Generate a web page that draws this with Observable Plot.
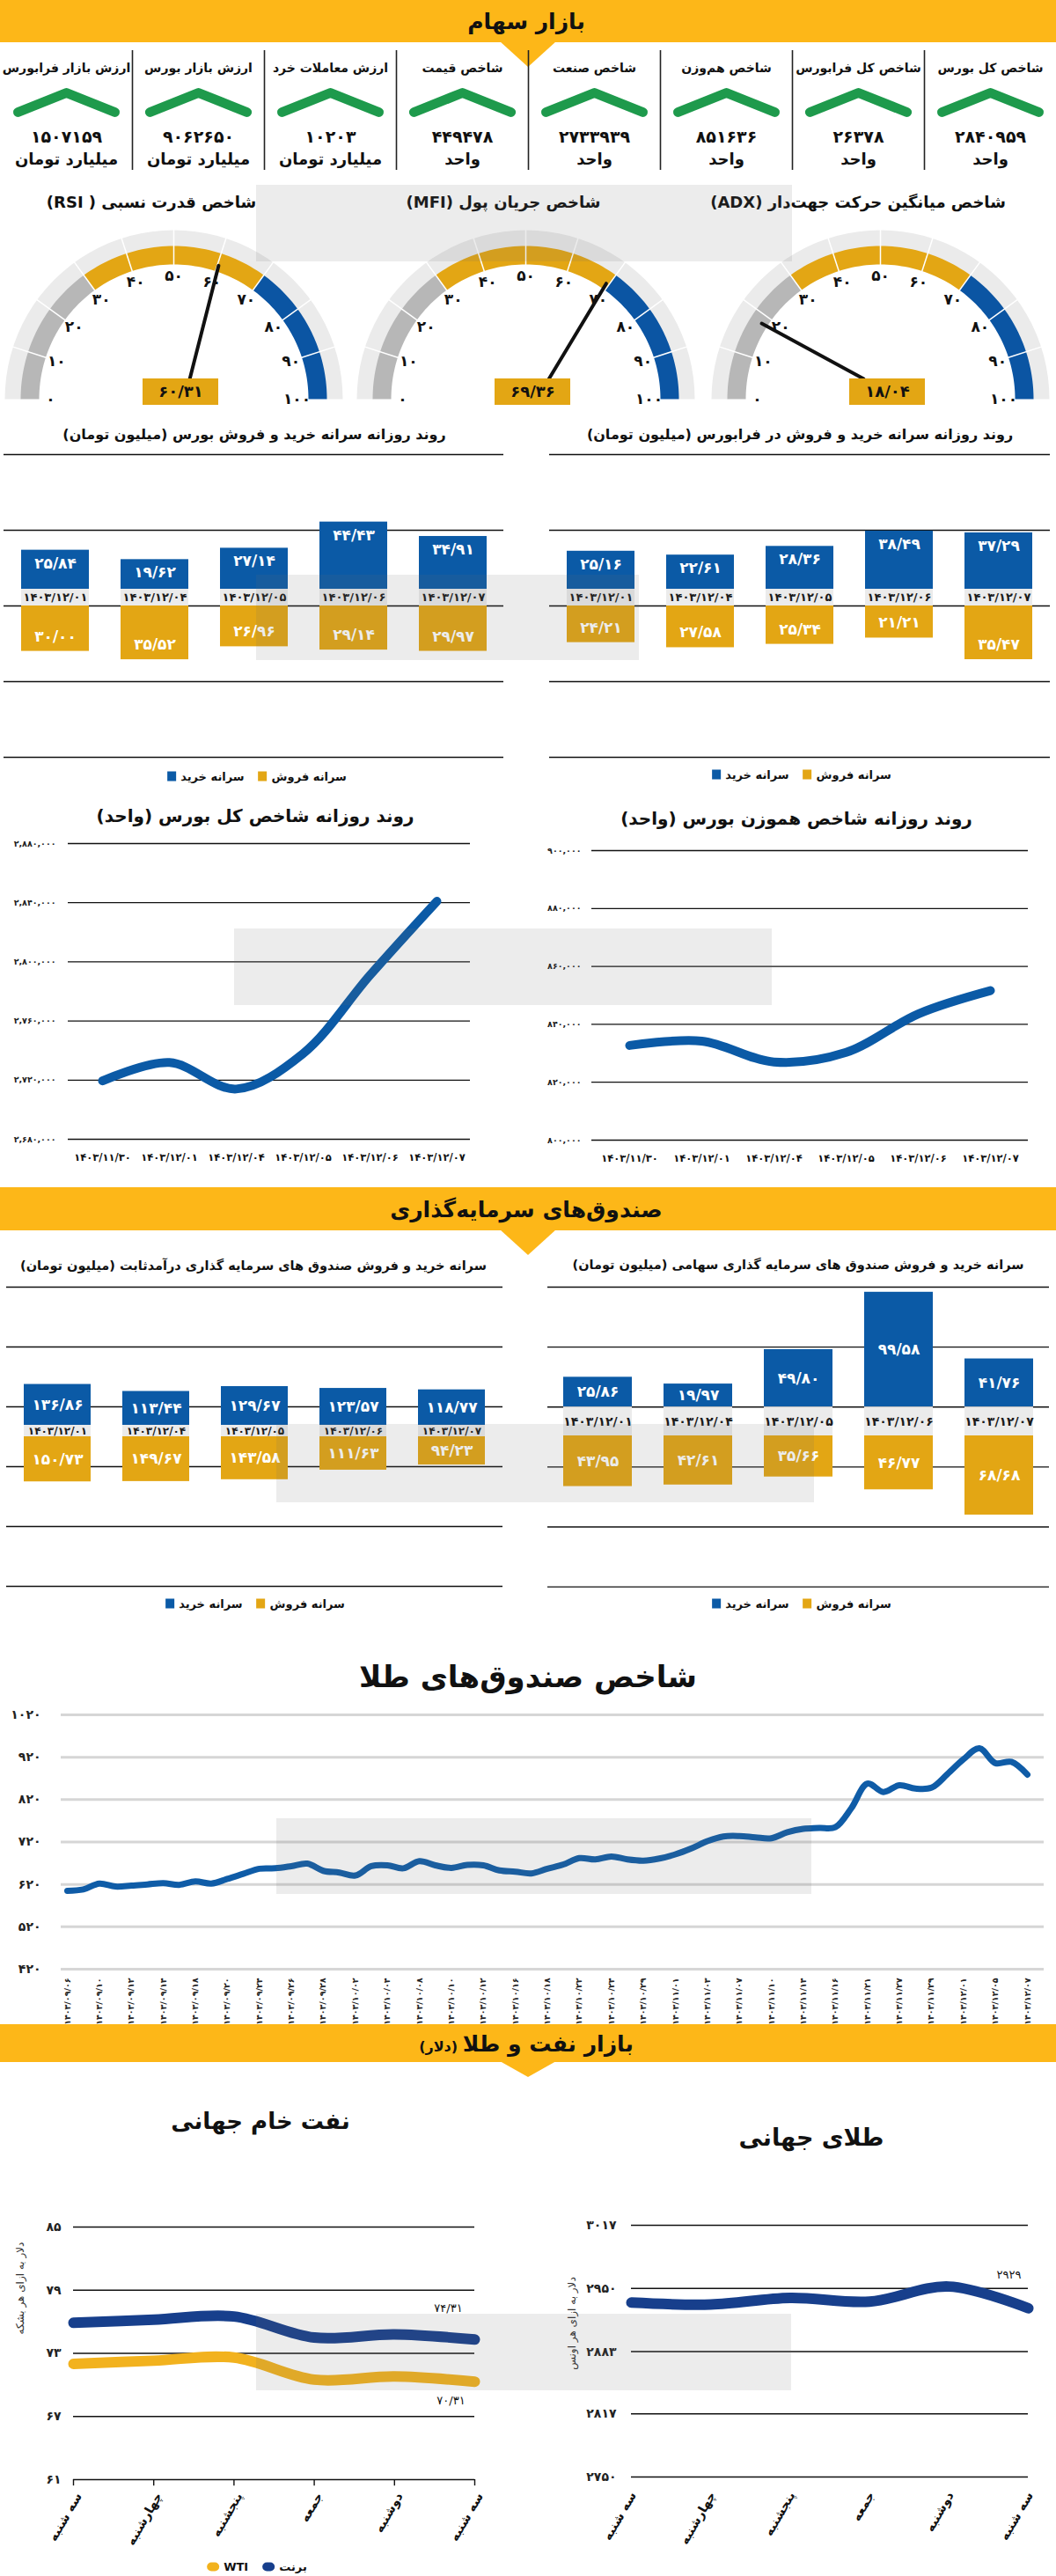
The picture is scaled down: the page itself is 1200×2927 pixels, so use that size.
<!DOCTYPE html>
<html lang="fa">
<head>
<meta charset="utf-8">
<script src="https://cdn.jsdelivr.net/npm/d3@7"></script>
<script src="https://cdn.jsdelivr.net/npm/@observablehq/plot@0.6"></script>
<style>
html,body{margin:0;padding:0;background:#fff;}
#page{position:relative;width:1200px;height:2927px;overflow:hidden;background:#fff;font-family:"DejaVu Sans",sans-serif;color:#111;}
.t{position:absolute;white-space:nowrap;transform:translate(-50%,-50%);direction:rtl;font-weight:bold;line-height:1;}
.band{position:absolute;left:0;width:1200px;background:#fdb718;}
.tri{position:absolute;width:0;height:0;}
.chart{position:absolute;}
.chart svg{display:block;overflow:visible;}
.legend{position:absolute;transform:translate(-50%,-50%);display:flex;direction:rtl;gap:16px;font-weight:bold;font-size:13px;white-space:nowrap;align-items:center;}
.legend .item{display:flex;align-items:center;gap:5px;}
.sw{display:inline-block;width:10px;height:11px;}
.wm{position:absolute;background:rgba(110,110,110,0.13);pointer-events:none;}
.narrow text{letter-spacing:-0.4px;}
</style>
</head>
<body>
<div id="page"></div>
<script>
// ================= DATA =================
const kpiLabels = ["شاخص کل بورس","شاخص کل فرابورس","شاخص هم‌وزن","شاخص صنعت","شاخص قیمت","ارزش معاملات خرد","ارزش بازار بورس","ارزش بازار فرابورس"];
const kpiValues = [2840959, 26378, 851636, 2733939, 449478, 10203, 9062650, 1507159];
const kpiUnits = ["واحد","واحد","واحد","واحد","واحد","میلیارد تومان","میلیارد تومان","میلیارد تومان"];

const gaugeTitles = ["شاخص قدرت نسبی ( RSI)","شاخص جریان پول (MFI)","شاخص میانگین حرکت جهت‌دار (ADX)"];
const gaugeValues = [60.31, 69.36, 18.04];
const gaugeStops = [0, 30, 70, 100];
const gaugeTicks = [0,10,20,30,40,50,60,70,80,90,100];

const tradeDates = ["۱۴۰۳/۱۲/۰۱","۱۴۰۳/۱۲/۰۴","۱۴۰۳/۱۲/۰۵","۱۴۰۳/۱۲/۰۶","۱۴۰۳/۱۲/۰۷"];
const bourseBuy = [25.84, 19.62, 27.14, 44.43, 34.91];
const bourseSell = [30.00, 35.52, 26.96, 29.14, 29.97];
const faraBuy = [25.16, 22.61, 28.36, 38.49, 37.29];
const faraSell = [24.21, 27.58, 25.34, 21.21, 35.47];
const fixedBuy = [136.86, 113.44, 129.67, 123.57, 118.77];
const fixedSell = [150.73, 149.67, 143.58, 111.63, 94.23];
const equityBuy = [25.86, 19.97, 49.80, 99.58, 41.76];
const equitySell = [43.95, 42.61, 35.66, 46.77, 68.68];

const indexDates = ["۱۴۰۳/۱۱/۳۰","۱۴۰۳/۱۲/۰۱","۱۴۰۳/۱۲/۰۴","۱۴۰۳/۱۲/۰۵","۱۴۰۳/۱۲/۰۶","۱۴۰۳/۱۲/۰۷"];
const tedpix = [2719500, 2731900, 2714000, 2738000, 2791000, 2840959];
const tedpixTicks = [2680000, 2720000, 2760000, 2800000, 2840000, 2880000];
const equalWeight = [832700, 834200, 827000, 830300, 843600, 851636];
const equalTicks = [800000, 820000, 840000, 860000, 880000, 900000];

const goldFundTickDates = ["۱۴۰۳/۰۹/۰۶","۱۴۰۳/۰۹/۱۰","۱۴۰۳/۰۹/۱۲","۱۴۰۳/۰۹/۱۴","۱۴۰۳/۰۹/۱۸","۱۴۰۳/۰۹/۲۰","۱۴۰۳/۰۹/۲۴","۱۴۰۳/۰۹/۲۶","۱۴۰۳/۰۹/۲۸","۱۴۰۳/۱۰/۰۲","۱۴۰۳/۱۰/۰۴","۱۴۰۳/۱۰/۰۸","۱۴۰۳/۱۰/۱۰","۱۴۰۳/۱۰/۱۲","۱۴۰۳/۱۰/۱۶","۱۴۰۳/۱۰/۱۸","۱۴۰۳/۱۰/۲۲","۱۴۰۳/۱۰/۲۴","۱۴۰۳/۱۰/۲۹","۱۴۰۳/۱۱/۰۱","۱۴۰۳/۱۱/۰۳","۱۴۰۳/۱۱/۰۷","۱۴۰۳/۱۱/۱۰","۱۴۰۳/۱۱/۱۴","۱۴۰۳/۱۱/۱۶","۱۴۰۳/۱۱/۲۱","۱۴۰۳/۱۱/۲۷","۱۴۰۳/۱۱/۲۹","۱۴۰۳/۱۲/۰۱","۱۴۰۳/۱۲/۰۵","۱۴۰۳/۱۲/۰۷"];
const goldFundIndex = [605,608,622,615,617,620,623,619,627,622,633,645,657,658,663,669,652,648,641,663,665,658,675,665,659,666,665,653,650,646,657,667,682,679,686,679,676,681,691,705,722,733,734,731,729,743,751,753,755,800,858,838,854,846,848,880,915,941,906,909,879];
const goldFundTicks = [420, 520, 620, 720, 820, 920, 1020];

const weekDays = ["سه شنبه","چهارشنبه","پنجشنبه","جمعه","دوشنبه","سه شنبه"];
const brent = [75.9, 76.2, 76.5, 74.5, 74.8, 74.31];
const wti = [72.0, 72.3, 72.6, 70.5, 70.8, 70.31];
const oilTicks = [61, 67, 73, 79, 85];
const goldOunce = [2935, 2933, 2940, 2936, 2952, 2929];
const goldOunceTicks = [2750, 2817, 2883, 2950, 3017];

// ================= HELPERS =================
const BLUE="#0b5aa6", GOLD="#e3a614", GREEN="#1e9a4c", YEL="#fdb718", NAVY="#173f8c", WTIC="#f2b21e", GBLUE="#0b55a3";
const STYLE = {fontFamily:'"DejaVu Sans", sans-serif', background:"transparent", overflow:"visible"};
const FA = "۰۱۲۳۴۵۶۷۸۹";
const fa = s => String(s).replace(/[0-9]/g, d => FA[+d]);
const faDec = v => fa(v.toFixed(2).replace(".", "/"));
const faGroup = v => fa(d3.format(",")(v));
const page = document.getElementById("page");

function put(node, left, top, width, cls){
  const d = document.createElement("div");
  d.className = "chart" + (cls ? " " + cls : "");
  d.style.left = left + "px"; d.style.top = top + "px"; d.style.width = width + "px";
  d.appendChild(node); page.appendChild(d); return d;
}
function label(text, x, y, size, opts = {}){
  const d = document.createElement("div");
  d.className = "t"; d.textContent = text;
  d.style.left = x + "px"; d.style.top = y + "px"; d.style.fontSize = size + "px";
  if (opts.color) d.style.color = opts.color;
  if (opts.weight) d.style.fontWeight = opts.weight;
  if (opts.rotate) d.style.transform = `translate(-50%,-50%) rotate(${opts.rotate}deg)`;
  page.appendChild(d); return d;
}
function header(title, top, h, triH, sub){
  const b = document.createElement("div"); b.className = "band";
  b.style.top = top + "px"; b.style.height = h + "px"; page.appendChild(b);
  const t = document.createElement("div"); t.className = "tri";
  t.style.left = "568px"; t.style.top = (top + h - 1) + "px";
  t.style.borderLeft = "32px solid transparent"; t.style.borderRight = "32px solid transparent";
  t.style.borderTop = triH + "px solid " + YEL; page.appendChild(t);
  const l = label(title, 598, top + h / 2, 25);
  if (sub){ const s = document.createElement("span"); s.textContent = " " + sub; s.style.fontSize = "16px"; l.appendChild(s); }
}
function legend(items, cx, cy){
  const d = document.createElement("div"); d.className = "legend";
  d.style.left = cx + "px"; d.style.top = cy + "px";
  for (const it of items){
    const s = document.createElement("span"); s.className = "item";
    const tx = document.createElement("span"); tx.textContent = it.name;
    const sw = document.createElement("span"); sw.className = "sw"; sw.style.background = it.color;
    if (it.round){ sw.style.width = "14px"; sw.style.height = "10px"; sw.style.borderRadius = "5px"; }
    s.appendChild(tx); s.appendChild(sw); d.appendChild(s);
  }
  page.appendChild(d);
}

// ================= SECTION 1: STOCK MARKET =================
header("بازار سهام", 0, 48, 29);

// KPI tiles
{
  const kpi = kpiLabels.map((lab, i) => ({i, lab, value: kpiValues[i], unit: kpiUnits[i]}));
  const chevron = kpi.flatMap(d => [-1, 0, 1].map(k => ({i: d.i, x: d.i + 0.5 + k * 0.367, y: k === 0 ? 55 : 77})));
  const svg = Plot.plot({
    width: 1200, height: 150, margin: 0, style: STYLE,
    x: {domain: [0, 8], range: [1200, 0], axis: null},
    y: {domain: [0, 150], range: [0, 150], axis: null},
    marks: [
      Plot.ruleX(d3.range(1, 8), {x: d => d, y1: 7, y2: 143, stroke: "#222", strokeWidth: 1.6}),
      Plot.line(chevron, {x: "x", y: "y", z: "i", stroke: GREEN, strokeWidth: 11, strokeLinecap: "round", strokeLinejoin: "round"}),
      Plot.text(kpi, {x: d => d.i + 0.5, y: 27, text: "lab", fontSize: 14, fontWeight: "bold", fill: "#111"}),
      Plot.text(kpi, {x: d => d.i + 0.5, y: 105, text: d => fa(d.value), fontSize: 19, fontWeight: "bold", fill: "#111"}),
      Plot.text(kpi, {x: d => d.i + 0.5, y: 131, text: "unit", fontSize: 18, fontWeight: "bold", fill: "#111"})
    ]
  });
  put(svg, 0, 50, 1200);
}

// Gauges
const gaugeCenters = [197, 597, 1000];
gaugeTitles.forEach((title, gi) => {
  const cx = gaugeCenters[gi], value = gaugeValues[gi];
  const ang = v => Math.PI * (1 - v / 100);
  const P = (r, v) => ({x: r * Math.cos(ang(v)), y: r * Math.sin(ang(v))});
  const ring = (v0, v1, r0, r1) => {
    const n = 48, out = [];
    for (let k = 0; k <= n; k++) out.push(P(r1, v0 + (v1 - v0) * k / n));
    for (let k = n; k >= 0; k--) out.push(P(r0, v0 + (v1 - v0) * k / n));
    return out;
  };
  const segColors = ["#b7b7b7", GOLD, GBLUE];
  const tip = P(160, value);
  const bx = Math.max(-35, Math.min(51, 8 + 0.2 * tip.x));
  const seps = gaugeTicks.slice(1, -1).map(v => ({a: P(152, v), b: P(193, v)}));
  const marks = [
    Plot.line(ring(0, 100, 173, 192), {x: "x", y: "y", fill: "#ebebeb", stroke: "none"}),
    ...gaugeStops.slice(0, -1).map((s, i) => Plot.line(ring(s, gaugeStops[i + 1], 153, 174), {x: "x", y: "y", fill: segColors[i], stroke: "none"})),
    Plot.link(seps, {x1: d => d.a.x, y1: d => d.a.y, x2: d => d.b.x, y2: d => d.b.y, stroke: "#fff", strokeWidth: 1.5}),
    Plot.text(gaugeTicks, {x: v => P(140, v).x, y: v => P(140, v).y, text: v => fa(v), fontSize: 17, fontWeight: "bold", fill: "#111"}),
    Plot.link([value], {x1: () => bx, y1: () => 23, x2: () => tip.x, y2: () => tip.y, stroke: "#111", strokeWidth: 4, strokeLinecap: "round"}),
    Plot.rect([value], {x1: () => 8 - 43, x2: () => 8 + 43, y1: () => -7, y2: () => 23, fill: GOLD}),
    Plot.text([value], {x: () => 8, y: () => 8, text: v => faDec(v), fontSize: 18, fontWeight: "bold", fill: "#111"})
  ];
  const svg = Plot.plot({
    width: 400, height: 215, margin: 0, style: STYLE,
    x: {domain: [-200, 200], range: [0, 400], axis: null},
    y: {domain: [-12, 203], range: [215, 0], axis: null},
    marks
  });
  put(svg, cx - 200, 250, 400);
  label(title, cx - 25, 230, 18);
});

// Split bar charts
function splitBars(cfg){
  const data = cfg.dates.map((date, i) => ({date, buy: cfg.buy[i], sell: cfg.sell[i]}));
  const B = cfg.band, ppu = cfg.ppu;
  const yDom = [-(cfg.height - cfg.zeroY) / ppu, cfg.zeroY / ppu];
  const buyY = cfg.mid ? d => B + d.buy / 2 : d => B + d.buy;
  const sellY = cfg.mid ? d => -d.sell / 2 : d => -d.sell;
  const svg = Plot.plot({
    width: cfg.width, height: cfg.height,
    marginLeft: cfg.xr[0], marginRight: cfg.width - cfg.xr[1], marginTop: 0, marginBottom: 0,
    style: STYLE,
    x: {type: "band", domain: cfg.dates, range: cfg.xr, paddingInner: 0.32, paddingOuter: 0.16, axis: null},
    y: {domain: yDom, range: [cfg.height, 0], axis: null},
    marks: [
      Plot.ruleY(cfg.grid, {stroke: "#111", strokeWidth: 1.3}),
      Plot.rectY(data, {x: "date", y1: B, y2: d => B + d.buy, fill: BLUE}),
      Plot.rectY(data, {x: "date", y1: 0, y2: d => -d.sell, fill: GOLD}),
      Plot.rectY(data, {x: "date", y1: 0, y2: B, fill: "#ebebeb"}),
      Plot.text(data, {x: "date", y: B / 2, text: "date", fill: "#1a1a1a", fontSize: cfg.dateSize, fontWeight: "bold"}),
      Plot.text(data, {x: "date", y: buyY, dy: cfg.mid ? 0 : 15, text: d => faDec(d.buy), fill: "#fff", fontSize: cfg.valSize, fontWeight: "bold"}),
      Plot.text(data, {x: "date", y: sellY, dy: cfg.mid ? 0 : -17, text: d => faDec(d.sell), fill: "#fff", fontSize: cfg.valSize, fontWeight: "bold"})
    ]
  });
  put(svg, cfg.left, cfg.top, cfg.width);
}

const legendBuySell = [{name: "سرانه فروش", color: GOLD}, {name: "سرانه خرید", color: BLUE}];

label("روند روزانه سرانه خرید و فروش بورس (میلیون تومان)", 289, 494, 16);
splitBars({left: 0, top: 500, width: 600, height: 376, zeroY: 188, ppu: 1.72, band: 11,
  grid: [-100, -50, 0, 50, 100], xr: [4, 572], dates: tradeDates, buy: bourseBuy, sell: bourseSell,
  mid: false, dateSize: 13, valSize: 17});
legend(legendBuySell, 292, 882);

label("روند روزانه سرانه خرید و فروش در فرابورس (میلیون تومان)", 909, 494, 16);
splitBars({left: 600, top: 500, width: 600, height: 376, zeroY: 188, ppu: 1.72, band: 11,
  grid: [-100, -50, 0, 50, 100], xr: [24, 593], dates: tradeDates, buy: faraBuy, sell: faraSell,
  mid: false, dateSize: 13, valSize: 17});
legend(legendBuySell, 911, 880);

// Index line charts
function indexLine(cfg){
  const data = cfg.dates.map((date, i) => ({date, v: cfg.values[i]}));
  const svg = Plot.plot({
    width: 600, height: 390, marginLeft: cfg.xr[0], marginRight: 600 - cfg.xr[1], marginTop: 0, marginBottom: 0,
    style: STYLE,
    x: {type: "point", domain: cfg.dates, range: cfg.xr, axis: null},
    y: {domain: [cfg.ticks[0], cfg.ticks[cfg.ticks.length - 1]], range: cfg.yr, axis: null},
    marks: [
      Plot.ruleY(cfg.ticks, {stroke: "#111", strokeWidth: 1.3}),
      Plot.line(data, {x: "date", y: "v", stroke: BLUE, strokeWidth: 10, curve: "catmull-rom"}),
      Plot.text(cfg.ticks, {y: d => d, frameAnchor: "left", dx: cfg.labelDx, textAnchor: "end", text: d => faGroup(d), fontSize: cfg.tickSize, fontWeight: "bold", fill: "#222"}),
      Plot.text(cfg.dates, {x: d => d, y: cfg.ticks[0], dy: 21, text: d => d, fontSize: 11.5, fontWeight: "bold", fill: "#111"})
    ]
  });
  put(svg, cfg.left, 945, 600);
}
label("روند روزانه شاخص کل بورس (واحد)", 290, 927, 20);
indexLine({left: 0, dates: indexDates, values: tedpix, ticks: tedpixTicks, xr: [77, 534], yr: [349, 13], labelDx: -14, tickSize: 9.5});
label("روند روزانه شاخص هموزن بورس (واحد)", 905, 930, 20);
indexLine({left: 600, dates: indexDates, values: equalWeight, ticks: equalTicks, xr: [72, 568], yr: [350, 21], labelDx: -12, tickSize: 9.5});

// ================= SECTION 2: FUNDS =================
header("صندوق‌های سرمایه‌گذاری", 1349, 49, 29);

label("سرانه خرید و فروش صندوق های سرمایه گذاری درآمدثابت (میلیون تومان)", 288, 1438, 14.5);
splitBars({left: 0, top: 1450, width: 600, height: 365, zeroY: 182, ppu: 0.34, band: 38,
  grid: [-500, -300, -100, 100, 300, 500], xr: [7, 571], dates: tradeDates, buy: fixedBuy, sell: fixedSell,
  mid: true, dateSize: 12, valSize: 17});
legend(legendBuySell, 290, 1822);

label("سرانه خرید و فروش صندوق های سرمایه گذاری سهامی (میلیون تومان)", 907, 1437, 14.5);
splitBars({left: 600, top: 1450, width: 600, height: 365, zeroY: 181, ppu: 1.31, band: 25,
  grid: d3.range(-3, 3).map(k => 25 + 52 * k), xr: [22, 592], dates: tradeDates, buy: equityBuy, sell: equitySell,
  mid: true, dateSize: 14, valSize: 17});
legend(legendBuySell, 911, 1822);

// Gold funds index
label("شاخص صندوق‌های طلا", 600, 1905, 34);
{
  const data = goldFundIndex.map((v, i) => ({i, v}));
  const svg = Plot.plot({
    width: 1200, height: 390, marginLeft: 69, marginRight: 14, marginTop: 0, marginBottom: 0, style: STYLE,
    x: {domain: [0, goldFundIndex.length - 1], range: [76, 1167], axis: null},
    y: {domain: [420, 1020], range: [302, 13], axis: null},
    marks: [
      Plot.ruleY(goldFundTicks, {stroke: "#d6d6d6", strokeWidth: 3}),
      Plot.line(data, {x: "i", y: "v", stroke: "#0f5ca7", strokeWidth: 7, curve: "catmull-rom"}),
      Plot.text(goldFundTicks, {y: d => d, frameAnchor: "left", dx: -23, textAnchor: "end", text: d => fa(d), fontSize: 14, fontWeight: "bold", fill: "#222"}),
      Plot.text(goldFundTickDates, {x: (d, i) => 2 * i, y: 420, dy: 10, rotate: -90, textAnchor: "end", text: d => d, fontSize: 9.5, fontWeight: "bold", fill: "#222"})
    ]
  });
  put(svg, 0, 1935, 1200, "narrow");
}

// ================= SECTION 3: OIL & GOLD =================
header("بازار نفت و طلا", 2300, 43, 18, "(دلار)");

label("نفت خام جهانی", 296, 2410, 26);
{
  const b = brent.map((v, i) => ({i, v})), w = wti.map((v, i) => ({i, v}));
  const idx = d3.range(weekDays.length);
  const svg = Plot.plot({
    width: 600, height: 395, marginLeft: 83, marginRight: 61, marginTop: 0, marginBottom: 0, style: STYLE,
    x: {domain: [0, weekDays.length - 1], range: [83, 539], axis: null},
    y: {domain: [61, 85], range: [312, 25], axis: null},
    marks: [
      Plot.ruleY(oilTicks, {stroke: "#111", strokeWidth: 1.4}),
      Plot.ruleX(idx, {x: d => d, y1: 61, y2: 60.4, stroke: "#111", strokeWidth: 1.4}),
      Plot.line(w, {x: "i", y: "v", stroke: WTIC, strokeWidth: 12, curve: "catmull-rom"}),
      Plot.line(b, {x: "i", y: "v", stroke: NAVY, strokeWidth: 12, curve: "catmull-rom"}),
      Plot.text(oilTicks, {y: d => d, frameAnchor: "left", dx: -14, textAnchor: "end", text: d => fa(d), fontSize: 14, fontWeight: "bold", fill: "#222"}),
      Plot.text(weekDays, {x: (d, i) => i, y: 61, dx: 6, dy: 16, rotate: -60, textAnchor: "end", text: d => d, fontSize: 14, fontWeight: "bold", fill: "#111"}),
      Plot.text([brent[brent.length - 1]], {x: () => weekDays.length - 1, y: d => d, dx: -30, dy: -36, text: d => faDec(d), fontSize: 13, fill: "#111"}),
      Plot.text([wti[wti.length - 1]], {x: () => weekDays.length - 1, y: d => d, dx: -27, dy: 22, text: d => faDec(d), fontSize: 13, fill: "#111"})
    ]
  });
  put(svg, 0, 2505, 600);
  label("دلار به ازای هر بشکه", 23, 2600, 12, {weight: "normal", color: "#333", rotate: -90});
  legend([{name: "برنت", color: NAVY, round: true}, {name: "WTI", color: WTIC, round: true}], 292, 2916);
}

label("طلای جهانی", 922, 2428, 27);
{
  const g = goldOunce.map((v, i) => ({i, v}));
  const svg = Plot.plot({
    width: 600, height: 415, marginLeft: 117, marginRight: 32, marginTop: 0, marginBottom: 0, style: STYLE,
    x: {domain: [0, weekDays.length - 1], range: [117, 568], axis: null},
    y: {domain: [2750, 3017], range: [309, 23], axis: null},
    marks: [
      Plot.ruleY(goldOunceTicks, {stroke: "#111", strokeWidth: 1.4}),
      Plot.line(g, {x: "i", y: "v", stroke: NAVY, strokeWidth: 12, curve: "catmull-rom"}),
      Plot.text(goldOunceTicks, {y: d => d, frameAnchor: "left", dx: -17, textAnchor: "end", text: d => fa(d), fontSize: 14, fontWeight: "bold", fill: "#222"}),
      Plot.text(weekDays, {x: (d, i) => i, y: 2750, dx: 2, dy: 18, rotate: -60, textAnchor: "end", text: d => d, fontSize: 14, fontWeight: "bold", fill: "#111"}),
      Plot.text([goldOunce[goldOunce.length - 1]], {x: () => weekDays.length - 1, y: d => d, dx: -22, dy: -38, text: d => fa(d), fontSize: 13, fill: "#111"})
    ]
  });
  put(svg, 600, 2505, 600);
  label("دلار به ازای هر اونس", 650, 2640, 12, {weight: "normal", color: "#333", rotate: -90});
}

// watermark panels (decorative)
[[291,210,609,87],[291,653,435,97],[266,1055,611,87],[314,1618,611,89],[314,2066,608,86],[291,2629,608,87]].forEach(([x,y,w,h]) => {
  const d = document.createElement("div"); d.className = "wm";
  d.style.left = x + "px"; d.style.top = y + "px"; d.style.width = w + "px"; d.style.height = h + "px";
  page.appendChild(d);
});
</script>
</body>
</html>
